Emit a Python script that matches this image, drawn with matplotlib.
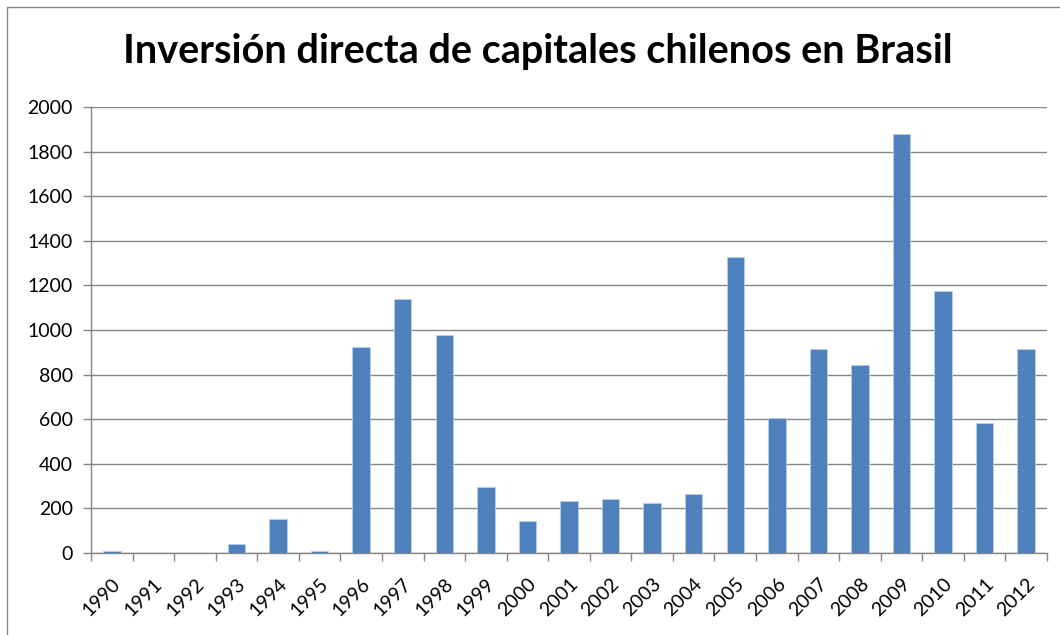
import matplotlib.pyplot as plt
import numpy as np
from matplotlib.patches import Rectangle

years = [str(y) for y in range(1990, 2013)]
inversion = [10, 0, 0, 42, 154, 10, 922, 1137, 978, 296, 145, 233, 240, 226,
             266, 1327, 605, 915, 845, 1877, 1177, 581, 915]

plt.rcParams['font.family'] = ['Lato', 'DejaVu Sans']

fig = plt.figure(figsize=(10.6, 6.35), dpi=100)
ax = fig.add_axes([91 / 1060, 1 - 553 / 635, (1047 - 91) / 1060, (553 - 107) / 635])

x = np.arange(len(years))
ax.bar(x + 0.5, inversion, width=0.42, color="#4F81BD", edgecolor="#b9cde5", linewidth=0.6, zorder=3)

ax.set_xlim(0, len(years))
ax.set_ylim(0, 2000)
ax.set_yticks(range(0, 2001, 200))
ax.set_xticks(x + 0.5)
ax.set_xticklabels(years, rotation=45, ha="right", rotation_mode="anchor", fontsize=14)
ax.set_xticks(np.arange(len(years) + 1), minor=True)
ax.tick_params(axis="x", which="major", length=0, pad=16)
ax.tick_params(axis="x", which="minor", length=6, color="#868686", width=1)
ax.tick_params(axis="y", length=6, color="#868686", width=1, labelsize=14, pad=7)

ax.grid(axis="y", color="#868686", linewidth=1, zorder=0)
for s in ["top", "right"]:
    ax.spines[s].set_visible(False)
ax.spines["left"].set_color("#868686")
ax.spines["bottom"].set_color("#868686")
ax.spines["left"].set_linewidth(1)
ax.spines["bottom"].set_linewidth(1)

fig.text(538 / 1060, 1 - 52 / 635, "Inversión directa de capitales chilenos en Brasil",
         ha="center", va="center", fontsize=28.5, fontweight="bold")

fig.patches.append(Rectangle((7 / 1060, -0.1), 1.2, 1 - 7 / 635 + 0.1, transform=fig.transFigure,
                             fill=False, edgecolor="#868686", linewidth=1))

fig.savefig("out.png", dpi=100)
